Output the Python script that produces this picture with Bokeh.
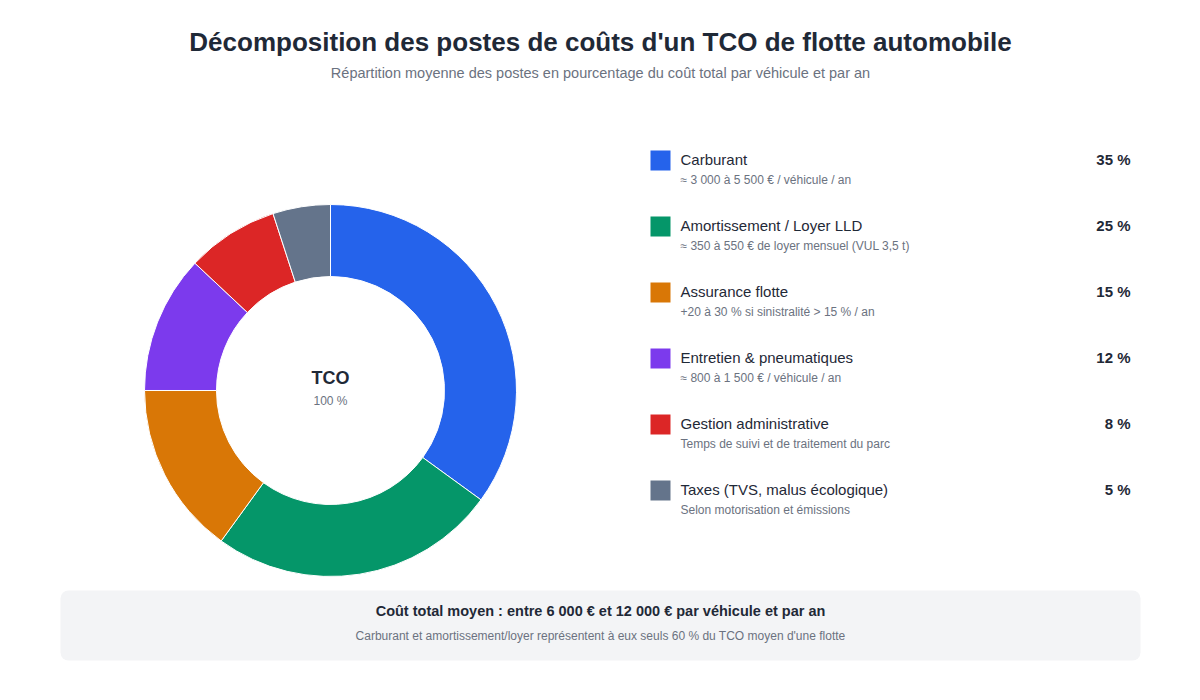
import math

from bokeh.plotting import figure
from bokeh.models import ColumnDataSource, Range1d, BoxAnnotation
from bokeh.core.properties import value
from bokeh.embed import file_html
from bokeh.resources import INLINE

# data
categories = [
    "Carburant",
    "Amortissement / Loyer LLD",
    "Assurance flotte",
    "Entretien & pneumatiques",
    "Gestion administrative",
    "Taxes (TVS, malus écologique)",
]
shares = [35, 25, 15, 12, 8, 5]
details = [
    "≈ 3 000 à 5 500 € / véhicule / an",
    "≈ 350 à 550 € de loyer mensuel (VUL 3,5 t)",
    "+20 à 30 % si sinistralité > 15 % / an",
    "≈ 800 à 1 500 € / véhicule / an",
    "Temps de suivi et de traitement du parc",
    "Selon motorisation et émissions",
]
colors = ["#2563eb", "#059669", "#d97706", "#7c3aed", "#dc2626", "#64748b"]

title = "Décomposition des postes de coûts d'un TCO de flotte automobile"
subtitle = "Répartition moyenne des postes en pourcentage du coût total par véhicule et par an"
footer_main = "Coût total moyen : entre 6 000 € et 12 000 € par véhicule et par an"
footer_note = "Carburant et amortissement/loyer représentent à eux seuls 60 % du TCO moyen d'une flotte"

FONT = value("Liberation Sans")
W, H = 1184, 684


def Y(sy):
    # page pixel row -> data y
    return 700 - sy


p = figure(
    width=W,
    height=H,
    x_range=Range1d(0, W),
    y_range=Range1d(Y(H), Y(0)),
    output_backend="svg",
    toolbar_location=None,
    min_border=0,
)
p.axis.visible = False
p.grid.visible = False
p.outline_line_color = None
p.background_fill_color = "white"
p.border_fill_color = "white"

# donut, clockwise from 12 o'clock
total = sum(shares)
starts, ends = [], []
acc = 0
for s in shares:
    starts.append(math.pi / 2 - 2 * math.pi * acc / total)
    acc += s
    ends.append(math.pi / 2 - 2 * math.pi * acc / total)

donut = ColumnDataSource(dict(start=starts, end=ends, color=colors))
p.annular_wedge(
    x=330, y=Y(390), inner_radius=114, outer_radius=186,
    start_angle="start", end_angle="end", direction="clock",
    fill_color="color", line_color="white", line_width=1, source=donut,
)
p.text(x=[330], y=[Y(377)], text=["TCO"], text_font=FONT, text_font_size="18px",
       text_font_style="bold", text_color="#1f2937", text_align="center", text_baseline="middle")
p.text(x=[330], y=[Y(400)], text=["100 %"], text_font=FONT, text_font_size="12px",
       text_color="#6b7280", text_align="center", text_baseline="middle")

# legend rows
rows = list(range(len(categories)))
row_y = [160 + 66 * i for i in rows]
leg = ColumnDataSource(dict(
    y=[Y(v) for v in row_y],
    yt=[Y(v - 1) for v in row_y],
    y2=[Y(v + 19) for v in row_y],
    color=colors,
    name=categories,
    detail=details,
    pct=[f"{s} %" for s in shares],
))
p.rect(x=660, y="y", width=20, height=20, fill_color="color", line_color=None, source=leg)
p.text(x=680, y="yt", text="name", text_font=FONT, text_font_size="15px", text_color="#1f2937",
       text_baseline="middle", source=leg)
p.text(x=680, y="y2", text="detail", text_font=FONT, text_font_size="12px", text_color="#6b7280",
       text_baseline="middle", source=leg)
p.text(x=1130, y="yt", text="pct", text_font=FONT, text_font_size="15px", text_font_style="bold",
       text_color="#1f2937", text_align="right", text_baseline="middle", source=leg)

# titles
p.text(x=[600], y=[Y(41)], text=[title], text_font=FONT, text_font_size="26px",
       text_font_style="bold", text_color="#1f2937", text_align="center", text_baseline="middle")
p.text(x=[600], y=[Y(72)], text=[subtitle], text_font=FONT, text_font_size="14.5px",
       text_color="#6b7280", text_align="center", text_baseline="middle")

# footer box
p.add_layout(BoxAnnotation(left=60, right=1140, top=Y(590), bottom=Y(660),
                           fill_color="#f3f4f6", fill_alpha=1, line_color=None,
                           border_radius=8, level="underlay"))
p.text(x=[600], y=[Y(610)], text=[footer_main], text_font=FONT, text_font_size="14.5px",
       text_font_style="bold", text_color="#1f2937", text_align="center", text_baseline="middle")
p.text(x=[600], y=[Y(635)], text=[footer_note], text_font=FONT, text_font_size="12px",
       text_color="#6b7280", text_align="center", text_baseline="middle")

open("out.html", "w").write(file_html(p, INLINE))
